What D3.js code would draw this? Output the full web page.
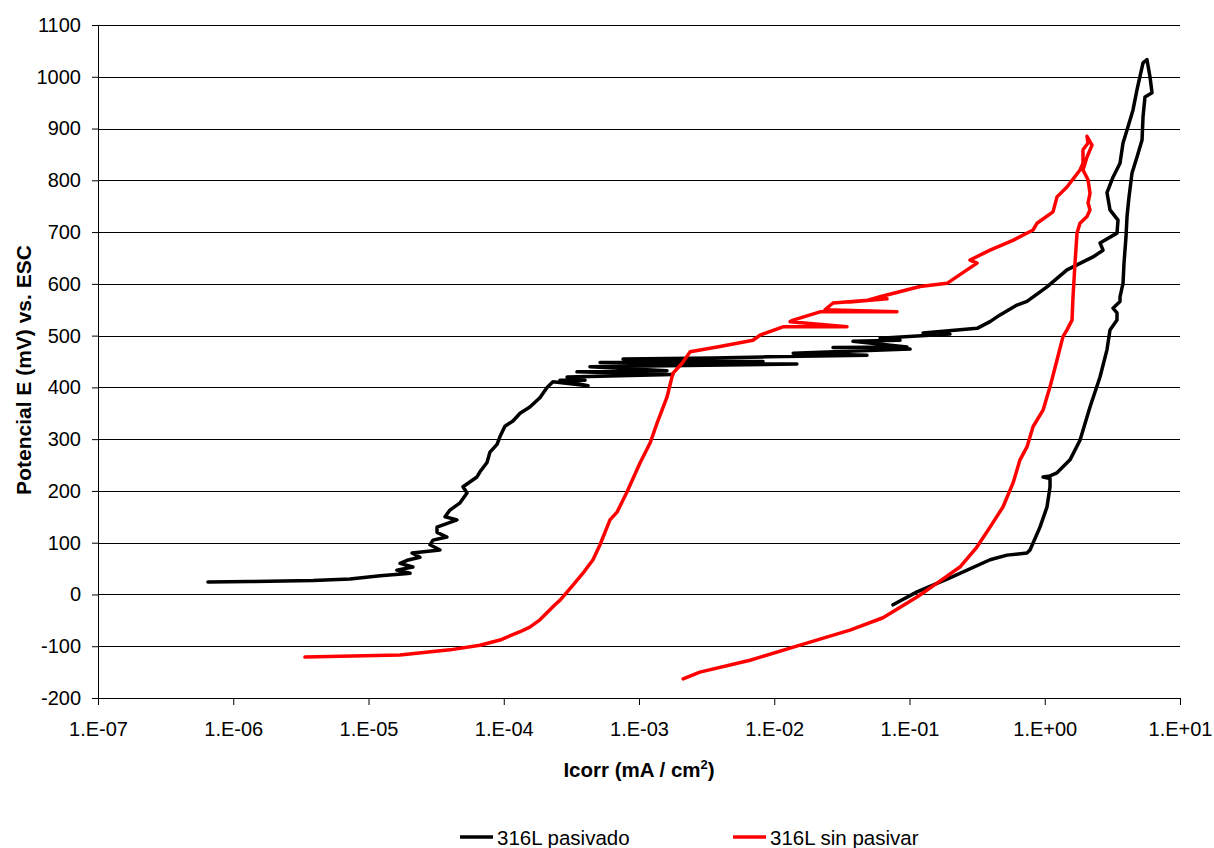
<!DOCTYPE html>
<html>
<head>
<meta charset="utf-8">
<script src="https://cdn.jsdelivr.net/npm/d3@7"></script>
<style>
  html, body { margin: 0; padding: 0; background: #fff; }
  svg { display: block; }
  text { font-family: "Liberation Sans", Arial, sans-serif; fill: #000; }
</style>
</head>
<body>
<svg id="chart" width="1214" height="848"></svg>
<script>
// ---- data (current density mA/cm2, potential mV vs ESC) ----
const seriesNames = ["316L pasivado", "316L sin pasivar"];
const seriesColors = ["#000000", "#ff0000"];

const pasivadoI = [6.5e-7,1.33e-6,3.9e-6,7.3e-6,1.22e-5,1.86e-5,2.03e-5,1.62e-5,2.13e-5,1.71e-5,1.93e-5,2.40e-5,2.10e-5,3.38e-5,2.85e-5,3.00e-5,3.80e-5,3.21e-5,3.21e-5,4.51e-5,3.68e-5,4.00e-5,4.75e-5,5.35e-5,5.00e-5,6.34e-5,6.67e-5,7.52e-5,7.91e-5,8.92e-5,9.38e-5,1.02e-4,1.17e-4,1.32e-4,1.56e-4,1.85e-4,2.09e-4,
  2.31e-4,4.20e-4,2.61e-4,3.99e-4,2.94e-4,1.78e-3,3.48e-4,1.61e-3,4.34e-4,1.47e-2,5.15e-4,8.26e-3,7.62e-4,3.51e-3,8.84e-3,4.85e-2,1.38e-2,0.101,2.72e-2,9.58e-2,3.82e-2,8.51e-2,6.05e-2,0.199,0.126,0.316,
  0.394,0.467,0.623,0.739,1.039,1.46,2.274,2.696,2.562,3.421,3.48,3.037,2.886,3.196,3.601,3.79,4.058,4.494,4.811,5.33,5.70,
  6.00,6.21,5.51,5.33,5.24,4.811,4.418,4.198,4.058,3.989,3.855,3.79,3.601,3.601,3.196,3.421,3.421,3.037,2.886,2.562,2.161,1.822,1.537,1.232,1.094,0.971,1.094,1.094,1.039,0.922,0.778,0.739,0.526,0.394,0.199,0.1136,0.0755];
const pasivadoE = [24,25,27,30,36,40,41,47,53,60,66,72,80,86,96,105,111,120,130,144,150,163,177,196,208,227,237,255,275,290,305,325,335,350,362,380,400,
  411,403,414,414,420,425,430,432,440,445,448,450,455,457,459,462,466,474,477,478,489,491,495,503,505,514,
  527,540,559,566,594,627,652,665,679,698,723,743,776,806,833,872,897,936,975,1027,1033,
  1000,969,961,923,878,845,814,768,730,691,640,601,575,566,553,544,530,511,473,420,362,298,260,235,229,227,224,208,169,130,86,80,76,67,32,5,-20];

const sinPasivarI = [3.39e-6,1.71e-5,4.00e-5,6.67e-5,9.38e-5,1.32e-4,1.56e-4,1.85e-4,2.39e-4,2.61e-4,3.25e-4,3.85e-4,4.57e-4,5.15e-4,6.10e-4,6.88e-4,8.15e-4,1.017e-3,1.21e-3,1.36e-3,1.61e-3,1.78e-3,2.09e-3,2.39e-3,3.97e-3,6.96e-3,7.85e-3,1.16e-2,3.45e-2,1.31e-2,1.38e-2,2.18e-2,8.08e-2,2.37e-2,2.72e-2,6.82e-2,3.63e-2,4.85e-2,6.05e-2,0.1196,0.1894,0.266,0.316,0.280,0.394,0.582,0.819,0.876,1.151,1.232,1.460,1.822,1.918,1.918,2.089,2.053,
  2.236,2.053,1.918,2.089,2.161,2.089,2.161,2.053,1.822,1.732,1.674,1.618,1.591,1.460,1.364,1.232,1.094,0.971,0.819,0.739,0.656,0.582,0.491,0.394,0.316,0.236,0.160,0.1136,0.0637,0.0363,0.0155,0.00662,0.00282,0.00212];
const sinPasivarE = [-121,-117,-107,-98,-88,-72,-63,-49,-20,-11,18,41,67,96,144,159,198,254,293,331,381,427,447,469,479,491,501,517,517,527,530,546,546,550,563,571,565,568,575,595,601,627,640,646,665,684,704,717,739,768,787,820,833,859,872,885,
  868,845,820,801,775,756,743,730,717,698,640,575,530,511,498,453,401,356,324,285,260,215,169,130,92,53,22,-5,-45,-69,-98,-127,-150,-163];

const xTickValues = [1e-7,1e-6,1e-5,1e-4,1e-3,1e-2,1e-1,1,10];
const xTickLabels = ["1.E-07","1.E-06","1.E-05","1.E-04","1.E-03","1.E-02","1.E-01","1.E+00","1.E+01"];
const yTickValues = [-200,-100,0,100,200,300,400,500,600,700,800,900,1000,1100];

// ---- layout ----
const svg = d3.select("#chart");
const margin = {left: 98, top: 25, right: 34, bottom: 150};
const W = 1214 - margin.left - margin.right;
const H = 848 - margin.top - margin.bottom;
const g = svg.append("g").attr("transform", `translate(${margin.left},${margin.top})`);

const x = d3.scaleLog().domain([1e-7, 10]).range([0, W]);
const y = d3.scaleLinear().domain([-200, 1100]).range([H, 0]);

// gridlines
g.append("g").selectAll("line").data(yTickValues.filter(v => v > -200)).join("line")
  .attr("x1", 0).attr("x2", W)
  .attr("y1", d => Math.round(y(d)) + 0.5).attr("y2", d => Math.round(y(d)) + 0.5)
  .attr("stroke", "#000").attr("stroke-width", 1);

// axes
const yAxis = g.append("g")
  .call(d3.axisLeft(y).tickValues(yTickValues).tickSize(6).tickPadding(11).tickFormat(d => String(d)));
const xAxis = g.append("g").attr("transform", `translate(0,${H})`)
  .call(d3.axisBottom(x).tickValues(xTickValues).tickSize(7).tickPadding(17)
    .tickFormat((d, i) => xTickLabels[i]));
[yAxis, xAxis].forEach(a => {
  a.selectAll("text").style("font-size", "20px").style("font-family", "'Liberation Sans', Arial, sans-serif");
  a.selectAll("line").attr("stroke", "#000");
  a.select(".domain").attr("stroke", "#000");
});
yAxis.select(".domain").attr("d", `M0.5,0V${H}`);
xAxis.select(".domain").attr("d", `M0,0.5H${W}`);

// curves
const line = d3.line().x(d => x(d[0])).y(d => y(d[1]));
const series = [
  {I: pasivadoI, E: pasivadoE},
  {I: sinPasivarI, E: sinPasivarE}
];
series.forEach((s, k) => {
  const pts = s.I.map((v, i) => [v, s.E[i]]);
  g.append("path").datum(pts)
    .attr("d", line)
    .attr("fill", "none")
    .attr("stroke", seriesColors[k])
    .attr("stroke-width", 3.5)
    .attr("stroke-linejoin", "round")
    .attr("stroke-linecap", "round");
});

// axis titles
svg.append("text")
  .attr("transform", `translate(31,370) rotate(-90)`)
  .attr("text-anchor", "middle")
  .style("font-size", "21px").style("font-weight", "bold")
  .text("Potencial E (mV) vs. ESC");

const xt = svg.append("text")
  .attr("x", margin.left + W / 2).attr("y", 777)
  .attr("text-anchor", "middle")
  .style("font-size", "20.5px").style("font-weight", "bold");
xt.append("tspan").text("Icorr (mA / cm");
xt.append("tspan").attr("dy", -8).style("font-size", "13px").text("2");
xt.append("tspan").attr("dy", 8).text(")");

// legend
const legendX = [460, 733];
seriesNames.forEach((name, k) => {
  svg.append("line")
    .attr("x1", legendX[k]).attr("x2", legendX[k] + 33)
    .attr("y1", 837).attr("y2", 837)
    .attr("stroke", seriesColors[k]).attr("stroke-width", 3.5);
  svg.append("text")
    .attr("x", legendX[k] + 37).attr("y", 845)
    .style("font-size", "20.5px")
    .text(name);
});
</script>
</body>
</html>
